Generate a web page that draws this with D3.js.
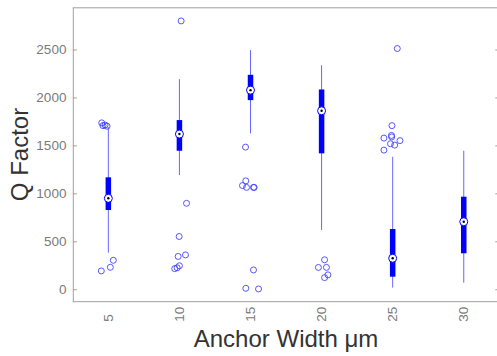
<!DOCTYPE html>
<html>
<head>
<meta charset="utf-8">
<script src="https://cdn.jsdelivr.net/npm/d3@7"></script>
<style>
  html, body { margin: 0; padding: 0; background: #fff; }
  svg { display: block; }
  text { font-family: "Liberation Sans", Arial, Helvetica, sans-serif; }
</style>
</head>
<body>
<svg id="chart" width="497" height="356"></svg>
<script>
// ---- data ----
const categories = ["5", "10", "15", "20", "25", "30"];
const whiskerLow  = [381, 1191, 1625, 618, 17, 69];
const q1          = [826, 1444, 1972, 1417, 131, 375];
const medians     = [948, 1618, 2076, 1861, 323, 704];
const q3          = [1167, 1764, 2236, 2083, 628, 965];
const whiskerHigh = [1690, 2191, 2493, 2336, 1381, 1444];
// outliers: [category, jitter (fraction of category spacing), value]
const outliers = [
  ["5", -0.093, 1735], ["5", -0.075, 1706], ["5", -0.046, 1712], ["5", -0.018, 1700],
  ["5", -0.099, 191], ["5", 0.028, 229], ["5", 0.07, 302],
  ["10", 0.024, 2798], ["10", 0.10, 896], ["10", -0.004, 550], ["10", -0.018, 342],
  ["10", 0.085, 358], ["10", 0.0, 245], ["10", -0.032, 224], ["10", -0.066, 215],
  ["15", -0.07, 1482], ["15", -0.066, 1130], ["15", -0.113, 1081], ["15", -0.056, 1062],
  ["15", 0.042, 1062], ["15", 0.051, 1062], ["15", 0.042, 201], ["15", -0.066, 10], ["15", 0.113, 3],
  ["20", 0.042, 307], ["20", -0.045, 227], ["20", 0.068, 228], ["20", 0.089, 150], ["20", 0.042, 121],
  ["25", 0.065, 2510], ["25", -0.01, 1706], ["25", -0.123, 1576], ["25", -0.017, 1604],
  ["25", -0.014, 1588], ["25", 0.103, 1550], ["25", -0.031, 1517], ["25", 0.028, 1503], ["25", -0.123, 1451]
];
const yTicks = [0, 500, 1000, 1500, 2000, 2500];
const xTitle = "Anchor Width μm";
const yTitle = "Q Factor";

// ---- layout ----
const mLeft = 72.8, mRight = 499.3, mTop = 7.3, mBottom = 301.7;
const svg = d3.select("#chart");

const x = d3.scaleBand().domain(categories).range([mLeft, mRight]).padding(0);
const y = d3.scaleLinear().domain([-130, 2940]).range([mBottom, mTop]);
const cx = c => x(c) + x.bandwidth() / 2;

const axisColor = "#a0a0a0";
const tickTextColor = "#7a7a7a";

// frame lines (top and bottom)
svg.append("line").attr("x1", mLeft).attr("x2", mRight).attr("y1", mTop + 0.5).attr("y2", mTop + 0.5)
  .attr("stroke", axisColor).attr("stroke-width", 1);
svg.append("line").attr("x1", mLeft).attr("x2", mRight).attr("y1", mBottom).attr("y2", mBottom)
  .attr("stroke", axisColor).attr("stroke-width", 1);

// left axis with inward ticks
const yAxis = d3.axisLeft(y).tickValues(yTicks).tickFormat(d3.format("d"))
  .tickSizeInner(-4).tickSizeOuter(0).tickPadding(6.4);
const gy = svg.append("g").attr("transform", `translate(${mLeft},0)`).call(yAxis);
gy.select(".domain").attr("stroke", axisColor);
gy.selectAll(".tick line").attr("stroke", axisColor);
gy.selectAll(".tick text").attr("fill", tickTextColor).style("font-size", "13.5px")
  .style("font-family", "'Liberation Sans', Arial, sans-serif");

// right axis ticks (inward)
const yAxisR = d3.axisLeft(y).tickValues(yTicks).tickSizeInner(4).tickSizeOuter(0).tickFormat("");
const gyr = svg.append("g").attr("transform", `translate(${mRight},0)`).call(yAxisR);
gyr.select(".domain").attr("stroke", axisColor);
gyr.selectAll(".tick line").attr("stroke", axisColor);

// x tick labels (rotated)
svg.append("g").selectAll("text").data(categories).join("text")
  .attr("transform", d => `translate(${cx(d)},321.7) rotate(-90)`)
  .attr("text-anchor", "start")
  .attr("dy", "0.35em")
  .attr("fill", tickTextColor)
  .style("font-size", "13.5px")
  .text(d => d);

// titles
svg.append("text").attr("x", (mLeft + mRight) / 2).attr("y", 346.5)
  .attr("text-anchor", "middle").attr("fill", "#333333").style("font-size", "24px").text(xTitle);
svg.append("text").attr("transform", `translate(27.5,${(mTop + mBottom) / 2}) rotate(-90)`)
  .attr("text-anchor", "middle").attr("fill", "#333333").style("font-size", "24px").text(yTitle);

// boxes
const boxW = 5.5;
const g = svg.append("g");
categories.forEach((c, i) => {
  const px = cx(c);
  g.append("line").attr("x1", px).attr("x2", px)
    .attr("y1", y(whiskerLow[i])).attr("y2", y(whiskerHigh[i]))
    .attr("stroke", "#0000ff").attr("stroke-opacity", 0.6).attr("stroke-width", 1);
  g.append("rect").attr("x", px - boxW / 2).attr("width", boxW)
    .attr("y", y(q3[i])).attr("height", y(q1[i]) - y(q3[i]))
    .attr("fill", "#0000ff");
  g.append("circle").attr("cx", px).attr("cy", y(medians[i])).attr("r", 4)
    .attr("fill", "#fff").attr("stroke", "#0000ff").attr("stroke-width", 1);
  g.append("circle").attr("cx", px).attr("cy", y(medians[i])).attr("r", 1.2)
    .attr("fill", "#000");
});

// outliers
svg.append("g").selectAll("circle").data(outliers).join("circle")
  .attr("cx", d => cx(d[0]) + d[1] * x.bandwidth())
  .attr("cy", d => y(d[2]))
  .attr("r", 3)
  .attr("fill", "none")
  .attr("stroke", "#3b3bff")
  .attr("stroke-opacity", 0.85)
  .attr("stroke-width", 1);
</script>
</body>
</html>
